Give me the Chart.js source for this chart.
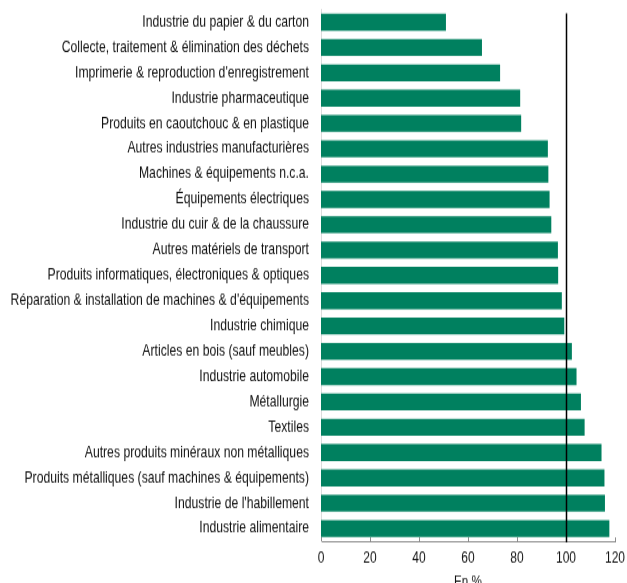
<!DOCTYPE html>
<html>
<head>
<meta charset="utf-8">
<script src="https://cdn.jsdelivr.net/npm/chart.js@4.4.0/dist/chart.umd.min.js"></script>
<style>
	html, body { margin: 0; padding: 0; background: #fff; overflow: hidden; }
	#wrap { width: 627px; height: 583px; overflow: hidden; }
	/* le graphique d'origine est étiré verticalement */
	#myChart { width: 627px !important; height: 597px !important; display: block; }
</style>
</head>
<body>
<div id="wrap"><canvas id="myChart" width="627" height="470" style="width:627px;height:597px"></canvas></div>
<script>
let sectors = [
	"Industrie du papier & du carton",
	"Collecte, traitement & élimination des déchets",
	"Imprimerie & reproduction d'enregistrement",
	"Industrie pharmaceutique",
	"Produits en caoutchouc & en plastique",
	"Autres industries manufacturières",
	"Machines & équipements n.c.a.",
	"Équipements électriques",
	"Industrie du cuir & de la chaussure",
	"Autres matériels de transport",
	"Produits informatiques, électroniques & optiques",
	"Réparation & installation de machines & d'équipements",
	"Industrie chimique",
	"Articles en bois (sauf meubles)",
	"Industrie automobile",
	"Métallurgie",
	"Textiles",
	"Autres produits minéraux non métalliques",
	"Produits métalliques (sauf machines & équipements)",
	"Industrie de l'habillement",
	"Industrie alimentaire"
];
let values = [51.0, 65.7, 73.1, 81.3, 81.7, 92.6, 92.8, 93.3, 94.0, 96.7, 96.8, 98.3, 99.3, 102.4, 104.3, 106.1, 107.6, 114.5, 115.7, 115.9, 117.7];
let x_ticks = [0, 20, 40, 60, 80, 100, 120];
let ref_value = 100;
let axis_title = "En %";

let bar_color = "#00805f";
let text_color = "#111";
let axis_color = "#8c8c8c";
let font_family = "'Liberation Sans', Arial, sans-serif";

// petites graduations vers l'intérieur + ligne verticale de référence (100)
const refLine = {
	id: 'refLine',
	afterDatasetsDraw(chart) {
		let ctx = chart.ctx;
		let xs = chart.scales.x;
		let area = chart.chartArea;
		ctx.save();
		ctx.strokeStyle = axis_color;
		ctx.lineWidth = 1;
		for (let v of x_ticks) {
			let tx = Math.round(xs.getPixelForValue(v)) + 0.5;
			ctx.beginPath();
			ctx.moveTo(tx, area.bottom);
			ctx.lineTo(tx, area.bottom - 3);
			ctx.stroke();
		}
		let x = Math.round(xs.getPixelForValue(ref_value)) + 0.5;
		ctx.strokeStyle = "#000";
		ctx.lineWidth = 1.5;
		ctx.beginPath();
		ctx.moveTo(x, area.top + 3);
		ctx.lineTo(x, area.bottom + 1);
		ctx.stroke();
		ctx.restore();
	}
};

window.onload = function() {
	const ctx = document.getElementById('myChart').getContext('2d');
	let data = {
		labels: sectors,
		datasets: [{
			data: values,
			backgroundColor: bar_color,
			borderWidth: 0,
			categoryPercentage: 1,
			barPercentage: 0.67
		}]
	};
	let options = {
		indexAxis: 'y',
		responsive: false,
		animation: false,
		layout: { padding: { top: 7.5, right: 12, bottom: 5.5, left: 0 } },
		plugins: {
			legend: { display: false },
			tooltip: { enabled: false }
		},
		scales: {
			x: {
				min: 0,
				max: 120,
				afterBuildTicks: function(scale) {
					scale.ticks = x_ticks.map(v => ({ value: v }));
				},
				afterFit: function(scale) {
					scale.paddingLeft = 0;
					scale.paddingRight = 0;
				},
				grid: { display: false, drawTicks: false },
				border: { display: true, color: axis_color, width: 1 },
				ticks: {
					color: text_color,
					padding: 6,
					maxRotation: 0,
					font: { family: font_family, size: 12 }
				},
				title: {
					display: true,
					text: axis_title,
					color: text_color,
					padding: { top: -2, bottom: 0 },
					font: { family: font_family, size: 11.7 }
				}
			},
			y: {
				grid: { display: false },
				border: { display: true, color: "#dcdcdc", width: 1 },
				ticks: {
					color: text_color,
					padding: 4,
					autoSkip: false,
					font: { family: font_family, size: 12.2 }
				},
				afterFit: function(scale) {
					scale.width = 321;
					scale.paddingTop = 0;
					scale.paddingBottom = 0;
				}
			}
		}
	};
	new Chart(ctx, { type: 'bar', data, options, plugins: [refLine] });
};
</script>
</body>
</html>
